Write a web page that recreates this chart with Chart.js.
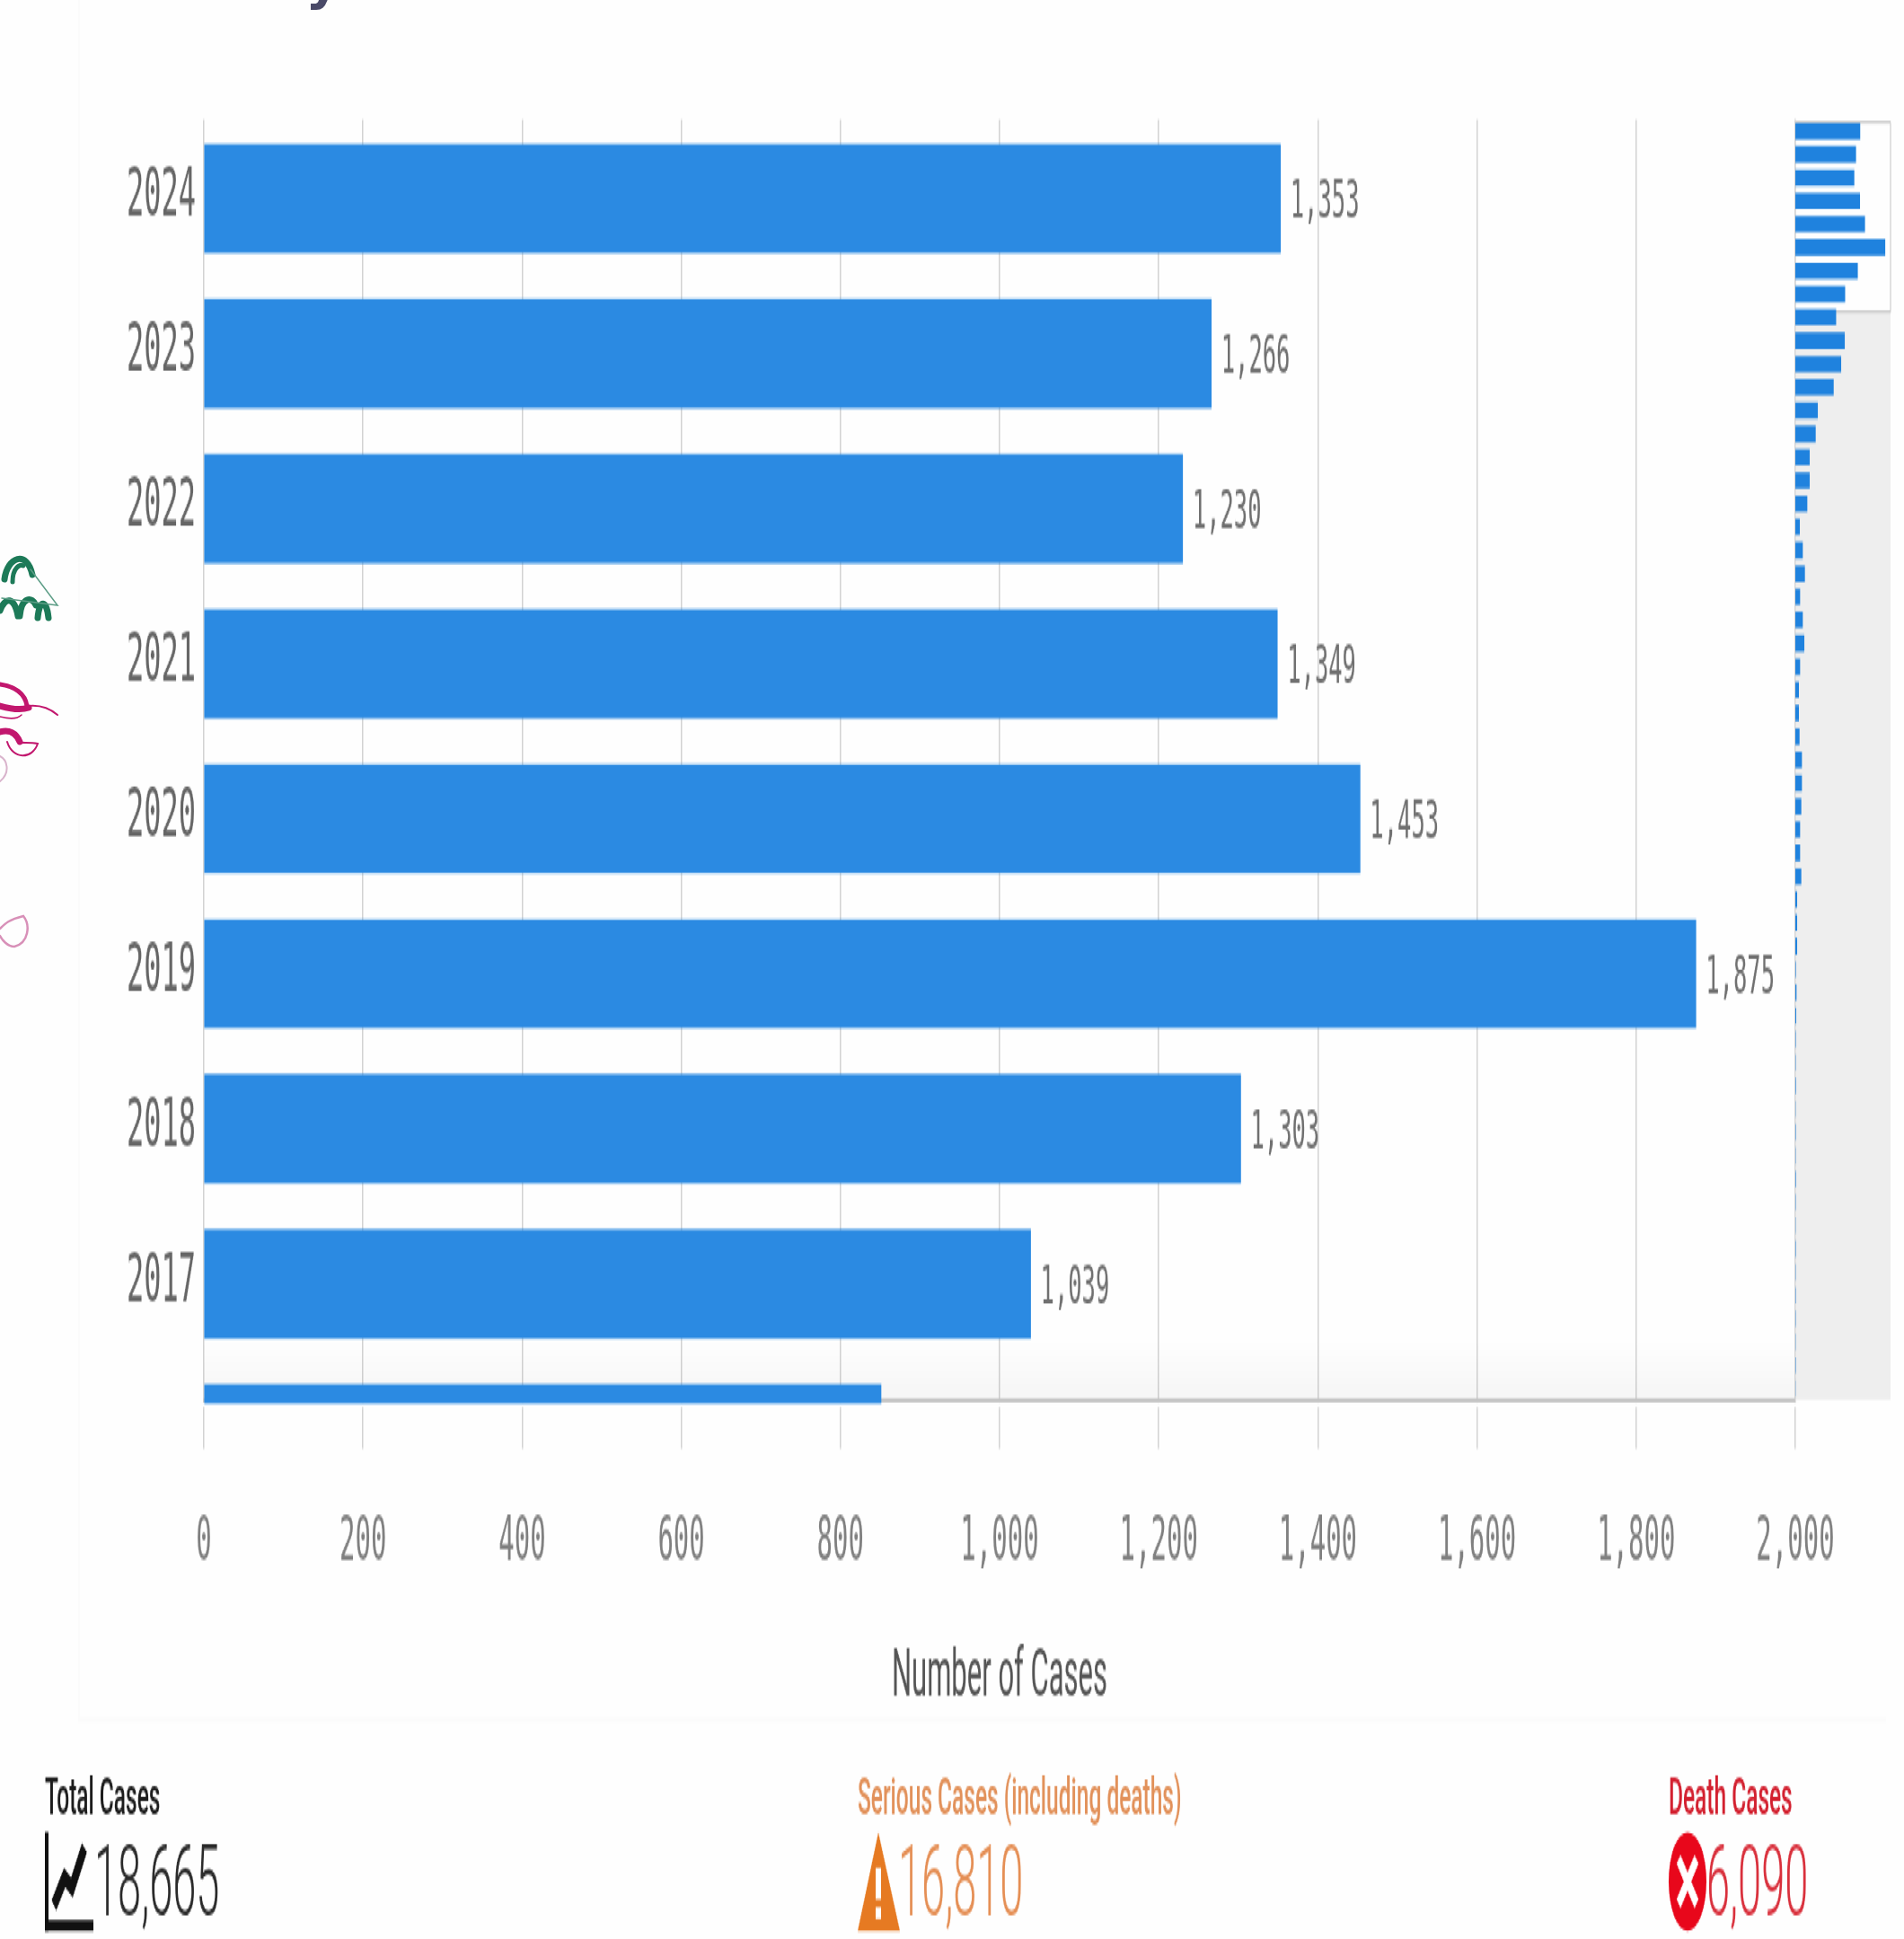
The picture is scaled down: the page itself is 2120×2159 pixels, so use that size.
<!DOCTYPE html>
<html>
<head>
<meta charset="utf-8">
<title>Number of Cases by Year</title>
<script src="https://cdn.jsdelivr.net/npm/chart.js@4/dist/chart.umd.min.js"></script>
<style>
  html, body { margin: 0; padding: 0; background: #fff; overflow: hidden; }
  #page { position: relative; width: 2120px; height: 2159px; overflow: hidden; background: #fefefe; }
  #stretch { position: absolute; left: 0; top: 0; width: 2120px; height: 900px; transform-origin: 0 0; transform: scaleY(2.39889); }
  #stretch canvas { position: absolute; left: 0; top: 0; }
  #ribbons { position: absolute; left: 0; top: 0; }
  #cut { position: absolute; left: 340px; top: -58px; font: bold 60px "DejaVu Sans"; color: #4a4a68; }
</style>
</head>
<body>
<div id="page">
  <div id="cut">y</div>
  <svg id="ribbons" width="80" height="1100" fill="none" stroke-linecap="round">
    <g stroke="#1d7a58">
      <path d="M5 645 C8 620 30 612 36 640" stroke-width="7"/>
      <path d="M14 648 C14 632 22 628 26 630" stroke-width="5"/>
      <path d="M0 680 C6 664 16 664 20 686 M22 686 C24 664 36 664 40 674 M42 688 C44 666 52 668 54 688" stroke-width="7"/>
      <path d="M34 634 L64 674 L2 666" stroke-width="1.5" stroke="#5c9d86"/>
    </g>
    <g stroke="#c2176e">
      <path d="M0 762 C16 764 28 772 30 786" stroke-width="5"/>
      <path d="M0 786 C14 790 26 790 32 788" stroke-width="7"/>
      <path d="M26 787 C40 784 52 786 64 796" stroke-width="2"/>
      <path d="M0 815 C10 812 18 816 22 826" stroke-width="7"/>
      <path d="M8 826 C14 846 36 846 42 828 C32 826 24 828 20 826" stroke-width="2"/>
      <path d="M0 798 C8 800 18 802 24 796" stroke-width="1.5"/>
    </g>
    <path d="M0 842 C8 846 12 860 0 870" stroke="#d9b3cc" stroke-width="2"/>
    <path d="M0 1034 C6 1028 10 1024 26 1020 C34 1030 32 1050 16 1054 C8 1054 2 1046 0 1042" stroke="#d890b8" stroke-width="2.5"/>
  </svg>
  <div id="stretch">
    <canvas id="main" width="2120" height="900"></canvas>
    <canvas id="overview" width="2120" height="900"></canvas>
  </div>
</div>
<script>
// Yearly case counts, newest first
const years = [2024,2023,2022,2021,2020,2019,2018,2017,2016,2015,2014,2013,2012,2011,2010,2009,2008,2007,2006,2005,
  2004,2003,2002,2001,2000,1999,1998,1997,1996,1995,1994,1993,1992,1991,1990,1989,1988,1987,1986,1985,
  1984,1983,1982,1981,1980,1979,1978,1977,1976,1975,1974,1973,1972,1971,1970];
const cases = [1353,1266,1230,1349,1453,1875,1303,1039,851,1031,956,800,469,425,300,300,250,94,156,200,
  100,156,188,100,75,75,88,138,138,125,100,100,125,38,38,38,12,25,19,10,
  8,12,6,10,7,12,8,6,10,7,9,8,6,9,5];
const xTicks = [0,200,400,600,800,1000,1200,1400,1600,1800,2000];
const visibleYears = [2016.25, 2024.51];
const axisTitle = 'Number of Cases';
const kpiLabels = ['Total Cases', 'Serious Cases (including deaths)', 'Death Cases'];
const kpiValues = [18665, 16810, 6090];

const K = 2159 / 900;               // vertical stretch of the stage
const Y = v => v / K;               // page y to canvas y
const BLUE = '#2b8ae2';
const MONO = '"DejaVu Sans Mono"';
const fmt = n => Number(n).toLocaleString('en-US');

// Small header icons for the three totals
function lineIcon(c, x, top, bottom) {
  c.save();
  c.strokeStyle = '#111'; c.fillStyle = '#111';
  c.fillRect(x, top, 4, bottom - top);
  c.fillRect(x, bottom - 5, 54, 5);
  c.lineWidth = 7;
  c.beginPath();
  c.moveTo(x + 10, top + (bottom - top) * 0.74);
  c.lineTo(x + 22, top + (bottom - top) * 0.46);
  c.lineTo(x + 30, top + (bottom - top) * 0.56);
  c.lineTo(x + 44, top + (bottom - top) * 0.16);
  c.stroke();
  c.restore();
}
function warnIcon(c, x, top, bottom) {
  c.save();
  c.fillStyle = '#e67a22';
  c.beginPath();
  c.moveTo(x + 23, top); c.lineTo(x + 47, bottom); c.lineTo(x, bottom); c.closePath(); c.fill();
  c.fillStyle = '#fff';
  c.fillRect(x + 20, top + (bottom - top) * 0.36, 6, (bottom - top) * 0.32);
  c.fillRect(x + 20, top + (bottom - top) * 0.76, 6, (bottom - top) * 0.12);
  c.restore();
}
function crossIcon(c, x, top, bottom) {
  const cy = (top + bottom) / 2, ry = (bottom - top) / 2, rx = 21, cx = x + rx;
  c.save();
  c.fillStyle = '#e8071b';
  c.beginPath(); c.ellipse(cx, cy, rx, ry, 0, 0, Math.PI * 2); c.fill();
  c.strokeStyle = '#fff'; c.lineWidth = 6;
  c.beginPath();
  c.moveTo(cx - 10, cy - ry * 0.45); c.lineTo(cx + 10, cy + ry * 0.45);
  c.moveTo(cx + 10, cy - ry * 0.45); c.lineTo(cx - 10, cy + ry * 0.45);
  c.stroke();
  c.restore();
}

const kpiStyle = [
  { x: 50,   numX: 105,  head: '#1c1c1c', num: '#2a2a2a', icon: lineIcon },
  { x: 955,  numX: 1000, head: '#e2915a', num: '#e58f55', icon: warnIcon },
  { x: 1858, numX: 1900, head: '#d3202f', num: '#d9303c', icon: crossIcon }
];

// Value labels, the gap under the plot and the totals row
const mainDecor = {
  id: 'mainDecor',
  beforeDraw(chart) {
    const c = chart.ctx;
    c.save();
    c.strokeStyle = '#fbfbfb';
    c.lineWidth = 2;
    c.beginPath();
    c.moveTo(88, 0); c.lineTo(88, Y(1915)); c.lineTo(2100, Y(1915));
    c.stroke();
    c.restore();
  },
  beforeDatasetsDraw(chart) {
    const c = chart.ctx, a = chart.chartArea;
    c.save();
    c.fillStyle = '#fefefe';
    c.fillRect(a.left - 4, a.bottom + Y(3), a.right - a.left + 8, Y(5));
    const shade = c.createLinearGradient(0, Y(1490), 0, a.bottom);
    shade.addColorStop(0, 'rgba(0,0,0,0)');
    shade.addColorStop(1, 'rgba(0,0,0,0.035)');
    c.fillStyle = shade;
    c.fillRect(a.left, Y(1490), a.right - a.left, a.bottom - Y(1490));
    c.restore();
  },
  afterDatasetsDraw(chart) {
    const c = chart.ctx, a = chart.chartArea;
    const meta = chart.getDatasetMeta(0);
    c.save();
    c.font = '25.5px ' + MONO;
    c.fillStyle = '#707070';
    c.textBaseline = 'middle';
    meta.data.forEach((bar, i) => {
      if (bar.y > a.bottom) return;
      c.fillText(fmt(chart.data.datasets[0].data[i].x), bar.x + 11, bar.y + Y(5));
    });
    c.restore();
  },
  afterDraw(chart) {
    const c = chart.ctx;
    c.save();
    c.textBaseline = 'middle';
    kpiStyle.forEach((s, i) => {
      c.font = '500 24.5px Roboto';
      c.fillStyle = s.head;
      c.fillText(kpiLabels[i], s.x, Y(2005));
      s.icon(c, s.x, Y(2040), Y(2150));
      c.font = '300 47px Roboto';
      c.fillStyle = s.num;
      c.fillText(fmt(kpiValues[i]), s.numX, Y(2104));
    });
    c.restore();
  }
};

new Chart(document.getElementById('main'), {
  type: 'bar',
  data: {
    datasets: [{
      data: years.slice(0, 9).map((y, i) => ({ x: cases[i], y })),
      backgroundColor: BLUE,
      barThickness: Y(120),
      clip: { left: 0, top: 0, right: 0, bottom: Y(4) }
    }]
  },
  plugins: [mainDecor],
  options: {
    indexAxis: 'y',
    responsive: false,
    animation: false,
    devicePixelRatio: 1,
    layout: { padding: { left: 0, right: 121, top: Y(133), bottom: 102 } },
    plugins: { legend: { display: false }, tooltip: { enabled: false } },
    scales: {
      x: {
        type: 'linear', min: xTicks[0], max: xTicks[xTicks.length - 1],
        afterFit: s => { s.height = 798 - Y(1559); },
        afterBuildTicks: s => { s.ticks = xTicks.map(value => ({ value })); },
        grid: { color: '#d2d2d2', lineWidth: 1.5, tickLength: Y(54), tickColor: '#d2d2d2' },
        border: { color: '#c8c8c8', width: 2 },
        ticks: {
          autoSkip: false, maxRotation: 0, padding: 27,
          color: '#808080', font: { family: MONO, size: 29 },
          callback: v => fmt(v)
        },
        title: {
          display: true, text: axisTitle, color: '#555', padding: { top: 26, bottom: 0 },
          font: { family: 'Roboto', size: 31 }
        }
      },
      y: {
        type: 'linear', min: visibleYears[0], max: visibleYears[1], offset: false,
        afterFit: s => { s.width = 227; },
        afterBuildTicks: s => { s.ticks = years.filter(y => y >= visibleYears[0] + 0.5 && y <= visibleYears[1]).map(value => ({ value })); },
        grid: { display: false, drawTicks: false, offset: false },
        border: { display: false },
        ticks: {
          autoSkip: false, padding: 9, color: '#666',
          font: { family: MONO, size: 32 },
          callback: v => String(v)
        }
      }
    }
  }
});

// Range strip on the right: grey track with the visible window left white
const stripPanel = {
  id: 'stripPanel',
  beforeDatasetsDraw(chart) {
    const c = chart.ctx, a = chart.chartArea;
    const bottomOfWindow = a.top + (a.bottom - a.top) * (visibleYears[1] - visibleYears[0]) / years.length;
    c.save();
    c.fillStyle = '#eeeeee';
    c.fillRect(a.left, bottomOfWindow, a.right - a.left, a.bottom - bottomOfWindow);
    c.strokeStyle = '#c4c4c4';
    c.lineWidth = 1;
    c.beginPath();
    c.moveTo(a.left, a.top + Y(3)); c.lineTo(a.right, a.top + Y(3)); c.lineTo(a.right, bottomOfWindow); c.lineTo(a.left, bottomOfWindow);
    c.stroke();
    c.strokeStyle = '#d8d8d8';
    c.beginPath(); c.moveTo(a.left, a.top); c.lineTo(a.left, a.bottom); c.stroke();
    c.restore();
  }
};

new Chart(document.getElementById('overview'), {
  type: 'bar',
  data: {
    labels: years.map(String),
    datasets: [{ data: cases, backgroundColor: '#1f82de', barPercentage: 0.7, categoryPercentage: 1 }]
  },
  plugins: [stripPanel],
  options: {
    indexAxis: 'y',
    responsive: false,
    animation: false,
    devicePixelRatio: 1,
    layout: { padding: { left: 1999, right: 15, top: Y(133), bottom: 900 - Y(1559) } },
    plugins: { legend: { display: false }, tooltip: { enabled: false } },
    scales: {
      x: { display: false, min: 0, max: 1985 },
      y: { display: false }
    }
  }
});
</script>
</body>
</html>
